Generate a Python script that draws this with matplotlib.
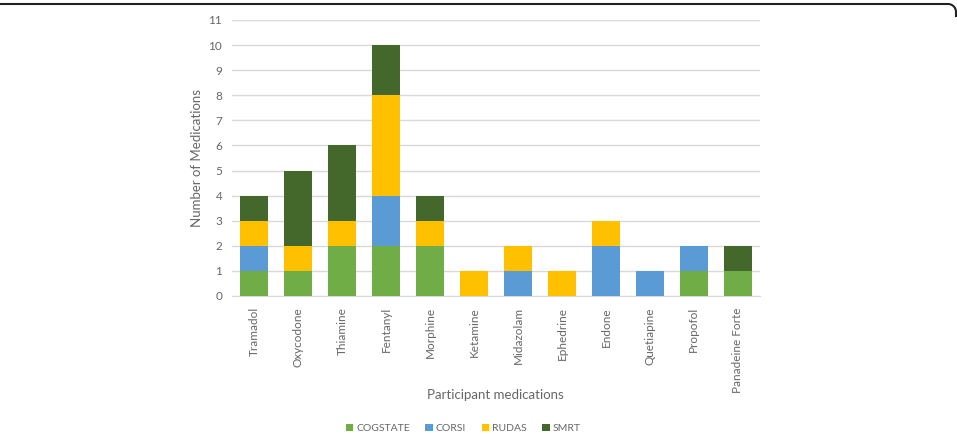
import numpy as np
import matplotlib.pyplot as plt
from matplotlib.lines import Line2D

medications = ["Tramadol", "Oxycodone", "Thiamine", "Fentanyl", "Morphine",
               "Ketamine", "Midazolam", "Ephedrine", "Endone", "Quetiapine",
               "Propofol", "Panadeine Forte"]
cogstate = [1, 1, 2, 2, 2, 0, 0, 0, 0, 0, 1, 1]
corsi = [1, 0, 0, 2, 0, 0, 1, 0, 2, 1, 1, 0]
rudas = [1, 1, 1, 4, 1, 1, 1, 1, 1, 0, 0, 0]
smrt = [1, 3, 3, 2, 1, 0, 0, 0, 0, 0, 0, 1]

series = [("COGSTATE", cogstate, "#70AD47"),
          ("CORSI", corsi, "#5B9BD5"),
          ("RUDAS", rudas, "#FFC000"),
          ("SMRT", smrt, "#44682C")]

plt.rcParams["font.family"] = ["Lato", "DejaVu Sans"]
text_color = "#666666"

W, H = 957, 434
fig = plt.figure(figsize=(W / 100, H / 100), dpi=100)
ax = fig.add_axes([0.2424, 0.318, 0.5516, 0.636])

x = np.arange(len(medications))
bottom = np.zeros(len(medications))
for name, vals, color in series:
    vals = np.array(vals, dtype=float)
    ax.bar(x, vals, 0.64, bottom=bottom, color=color, label=name, zorder=3)
    bottom += vals

ax.set_xlim(-0.5, len(medications) - 0.5)
ax.set_ylim(0, 11)
ax.set_yticks(range(0, 12))
ax.set_xticks(x)
ax.set_xticklabels(medications, rotation=90)
ax.tick_params(axis="both", length=0, colors=text_color, labelsize=8.5)
ax.tick_params(axis="x", pad=8)
ax.tick_params(axis="y", pad=7)
ax.grid(axis="y", color="#D9D9D9", linewidth=1, zorder=0)
for side in ["top", "right", "left"]:
    ax.spines[side].set_visible(False)
ax.spines["bottom"].set_color("#D9D9D9")

ax.set_ylabel("Number of Medications", color=text_color, fontsize=9.5, labelpad=4)
fig.text(0.518, 0.09, "Participant medications", ha="center", va="center",
         color=text_color, fontsize=9.5)

fig.legend(loc="center", bbox_to_anchor=(0.484, 0.012), ncol=4, frameon=False,
           fontsize=7.5, handlelength=0.7, handleheight=0.7, handletextpad=0.3,
           columnspacing=1.5, labelcolor=text_color)

# page frame: only the top edge shows, turning down at the right corner
r = 8
top = 4
t = np.linspace(np.pi / 2, 0, 20)
px = np.concatenate([[0], (W - 1 - r) + r * np.cos(t)])
py = np.concatenate([[top], (top + r) - r * np.sin(t)])
py = np.append(py, top + r + 4)
px = np.append(px, W - 1)
fig.lines.append(Line2D(px / W, 1 - py / H, transform=fig.transFigure,
                        color="#222222", linewidth=1.5))

fig.savefig("out.png", dpi=100)
